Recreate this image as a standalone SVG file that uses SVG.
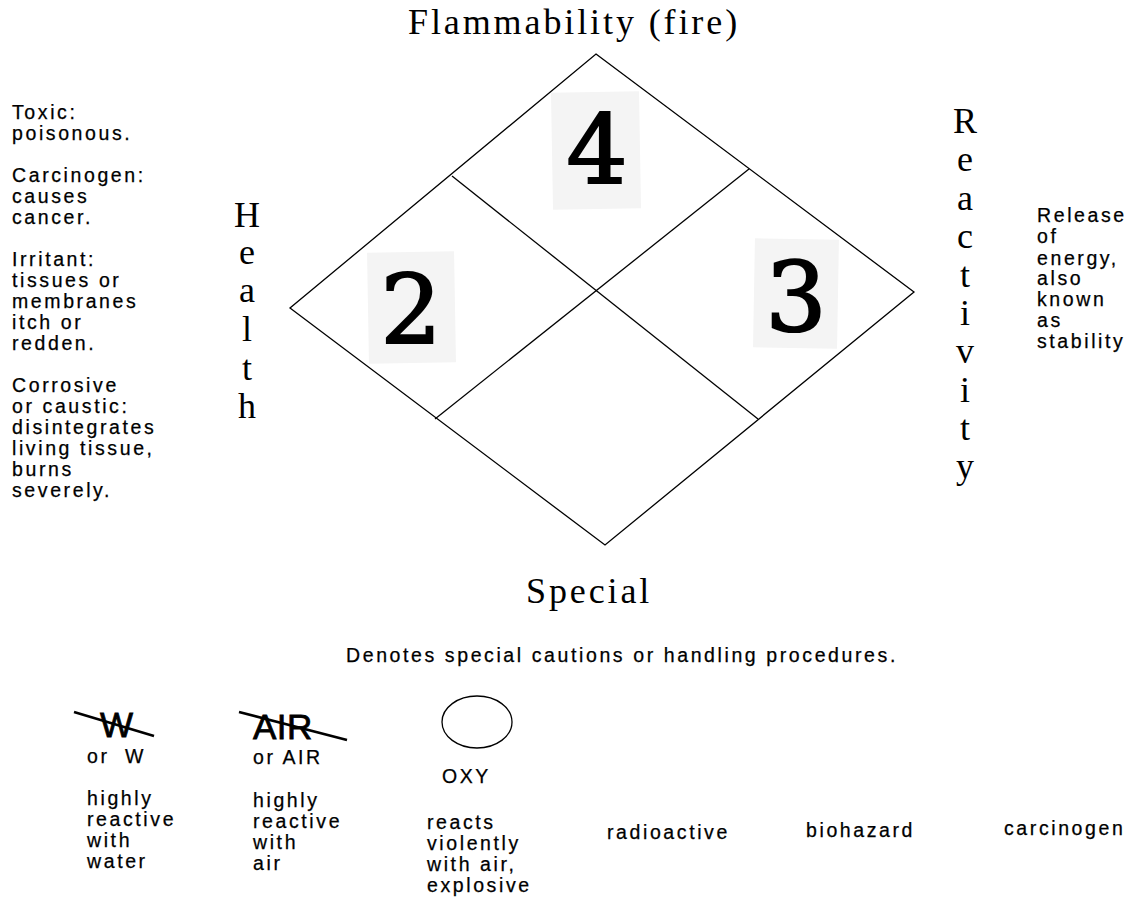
<svg xmlns="http://www.w3.org/2000/svg" width="1139" height="897" viewBox="0 0 1139 897">
<style>
.serif{font-family:"Liberation Serif","Times New Roman",serif;fill:#000}
.ttl{font-size:36px;letter-spacing:2.9px}
.vert{font-size:36px;text-anchor:middle}
.sans{font-family:"Liberation Sans",Arial,sans-serif;font-size:19.5px;letter-spacing:2.6px;fill:#000;stroke:#000;stroke-width:0.25}
.big{font-family:"Liberation Sans",Arial,sans-serif;font-size:35px;letter-spacing:0.5px;fill:#000;stroke:#000;stroke-width:0.8}
.digit{font-family:"DejaVu Serif","Liberation Serif",serif;font-size:96px;text-anchor:middle;fill:#000;stroke:#000;stroke-width:2.2}
.box{fill:#f4f4f4}
.ln{stroke:#000;stroke-width:1.3;fill:none}
.strike{stroke:#000;stroke-width:2.5}
</style>
<rect width="1139" height="897" fill="#fff"/>

<g id="title">
<text class="serif ttl" x="408" y="34">Flammability (fire)</text>
</g>

<g id="diamond">
<polygon class="ln" points="596,54 914,292 605,545 290,308"/>
</g>

<g id="connectors">
<line class="ln" x1="452" y1="176" x2="758" y2="419"/>
<line class="ln" x1="749" y1="169" x2="435" y2="419"/>
</g>

<g id="flammability-value">
<rect class="box" x="552" y="92" width="88" height="117" transform="rotate(-1 596 150)"/>
<text class="digit" x="597" y="183">4</text>
</g>

<g id="health-value">
<rect class="box" x="368" y="252" width="87" height="111" transform="rotate(-1 411 307)"/>
<text class="digit" x="411" y="343">2</text>
</g>

<g id="reactivity-value">
<rect class="box" x="754" y="239" width="84" height="109" transform="rotate(1 796 293)"/>
<text class="digit" x="796" y="331">3</text>
</g>

<g id="health-label">
<text class="serif vert" x="247" y="227">H</text>
<text class="serif vert" x="247" y="264">e</text>
<text class="serif vert" x="247" y="302">a</text>
<text class="serif vert" x="247" y="341">l</text>
<text class="serif vert" x="247" y="380">t</text>
<text class="serif vert" x="247" y="418">h</text>
</g>

<g id="reactivity-label">
<text class="serif vert" x="965" y="133">R</text>
<text class="serif vert" x="965" y="171">e</text>
<text class="serif vert" x="965" y="210">a</text>
<text class="serif vert" x="965" y="248">c</text>
<text class="serif vert" x="965" y="287">t</text>
<text class="serif vert" x="965" y="325">i</text>
<text class="serif vert" x="965" y="363">v</text>
<text class="serif vert" x="965" y="402">i</text>
<text class="serif vert" x="965" y="440">t</text>
<text class="serif vert" x="965" y="478">y</text>
</g>

<g id="health-notes">
<text class="sans" x="12" y="119">Toxic:</text>
<text class="sans" x="12" y="140">poisonous.</text>
<text class="sans" x="12" y="182">Carcinogen:</text>
<text class="sans" x="12" y="203">causes</text>
<text class="sans" x="12" y="224">cancer.</text>
<text class="sans" x="12" y="266">Irritant:</text>
<text class="sans" x="12" y="287">tissues or</text>
<text class="sans" x="12" y="308">membranes</text>
<text class="sans" x="12" y="329">itch or</text>
<text class="sans" x="12" y="350">redden.</text>
<text class="sans" x="12" y="392">Corrosive</text>
<text class="sans" x="12" y="413">or caustic:</text>
<text class="sans" x="12" y="434">disintegrates</text>
<text class="sans" x="12" y="455">living tissue,</text>
<text class="sans" x="12" y="476">burns</text>
<text class="sans" x="12" y="497">severely.</text>
</g>

<g id="reactivity-notes">
<text class="sans" x="1037" y="222">Release</text>
<text class="sans" x="1037" y="243">of</text>
<text class="sans" x="1037" y="265">energy,</text>
<text class="sans" x="1037" y="285">also</text>
<text class="sans" x="1037" y="306">known</text>
<text class="sans" x="1037" y="327">as</text>
<text class="sans" x="1037" y="348">stability</text>
</g>

<g id="special-label">
<text class="serif ttl" x="526" y="603">Special</text>
</g>

<g id="special-note">
<text class="sans" x="346" y="662">Denotes special cautions or handling procedures.</text>
</g>

<g id="water-symbol">
<text class="big" x="100" y="737">W</text>
<line class="strike" x1="74" y1="712" x2="154" y2="736"/>
<text class="sans" x="87" y="763">or</text>
<text class="sans" x="125" y="763">W</text>
<text class="sans" x="87" y="805">highly</text>
<text class="sans" x="87" y="826">reactive</text>
<text class="sans" x="87" y="847">with</text>
<text class="sans" x="87" y="868">water</text>
</g>

<g id="air-symbol">
<text class="big" x="253" y="739">AIR</text>
<line class="strike" x1="239" y1="712" x2="347" y2="740"/>
<text class="sans" x="253" y="764">or AIR</text>
<text class="sans" x="253" y="807">highly</text>
<text class="sans" x="253" y="828">reactive</text>
<text class="sans" x="253" y="849">with</text>
<text class="sans" x="253" y="870">air</text>
</g>

<g id="oxy-symbol">
<ellipse class="ln" cx="477" cy="722" rx="35" ry="26"/>
<text class="sans" x="442" y="783">OXY</text>
<text class="sans" x="427" y="829">reacts</text>
<text class="sans" x="427" y="850">violently</text>
<text class="sans" x="427" y="871">with air,</text>
<text class="sans" x="427" y="892">explosive</text>
</g>

<g id="radioactive">
<text class="sans" x="607" y="839">radioactive</text>
</g>

<g id="biohazard">
<text class="sans" x="806" y="837">biohazard</text>
</g>

<g id="carcinogen">
<text class="sans" x="1004" y="835">carcinogen</text>
</g>
</svg>
